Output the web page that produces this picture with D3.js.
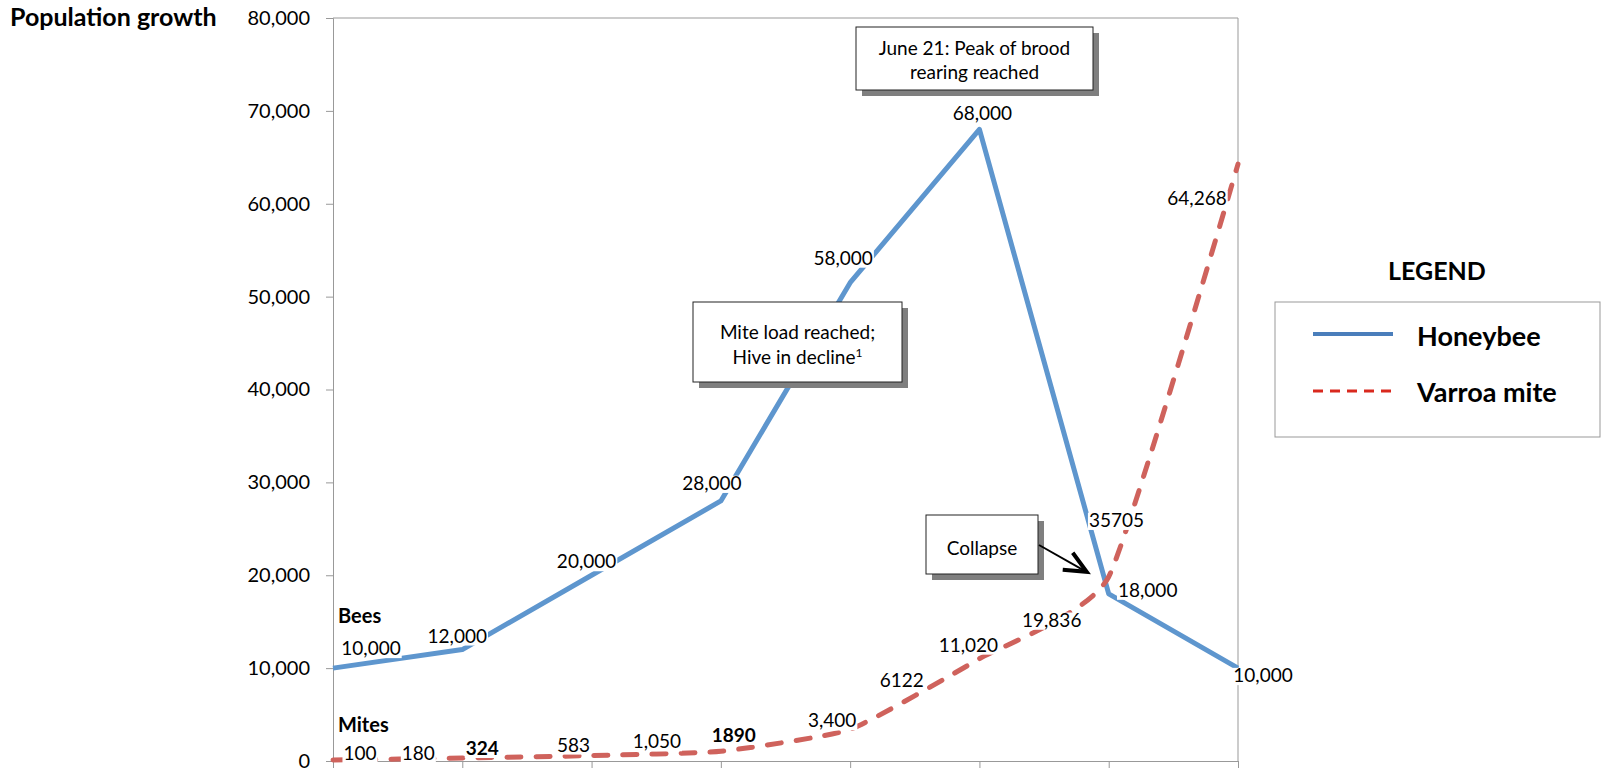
<!DOCTYPE html>
<html>
<head>
<meta charset="utf-8">
<script src="https://cdn.jsdelivr.net/npm/d3@7"></script>
<style>
  body { margin: 0; background: #fff; }
  svg { font-family: Lato, "Open Sans", sans-serif; }
</style>
</head>
<body>
<svg id="chart" width="1604" height="777"></svg>
<script>
// data
const periods = [0, 1, 2, 3, 4, 5, 6, 7];
const beeValues = [10000, 12000, 20000, 28000, 51500, 68000, 18000, 10000];
const beeLabels = ["10,000", "12,000", "20,000", "28,000", "58,000", "68,000", "18,000", "10,000"];
const miteValues = [100, 324, 583, 1050, 3400, 11020, 19836, 64268];
const miteLabels = ["100", "324", "583", "1,050", "3,400", "11,020", "19,836", "64,268"];
// extra mite counts written between the points: [text, period, level]
const miteExtraLabels = [["180", 0.66, 100], ["1890", 3.1, 2050], ["6122", 4.4, 7970], ["35705", 6.06, 25200]];
const yTicks = [0, 10000, 20000, 30000, 40000, 50000, 60000, 70000, 80000];

const svg = d3.select("#chart");

const x = d3.scaleLinear().domain([0, 7]).range([333, 1238]);
const y = d3.scaleLinear().domain([0, 80000]).range([761, 18]);

const gray = "#999";
const beeColor = "#5e96ce";
const miteColor = "#cf625c";

// plot frame
svg.append("line").attr("x1", x(0)).attr("x2", x(7)).attr("y1", y(80000)).attr("y2", y(80000)).attr("stroke", gray);
svg.append("line").attr("x1", x(7)).attr("x2", x(7)).attr("y1", y(80000)).attr("y2", y(0)).attr("stroke", gray);

const yAxis = svg.append("g")
  .attr("transform", `translate(${x(0)},0)`)
  .call(d3.axisLeft(y).tickValues(yTicks).tickFormat(d3.format(",")).tickSize(7).tickPadding(16));
yAxis.select(".domain").attr("stroke", gray);
yAxis.selectAll(".tick line").attr("stroke", gray);
yAxis.selectAll("text").attr("font-size", 20).attr("font-family", "Lato").attr("fill", "#000");

const xAxis = svg.append("g")
  .attr("transform", `translate(0,${y(0)})`)
  .call(d3.axisBottom(x).tickValues(periods).tickFormat("").tickSize(7).tickSizeOuter(0));
xAxis.select(".domain").attr("stroke", gray);
xAxis.selectAll(".tick line").attr("stroke", gray);

svg.append("text").attr("x", 10).attr("y", 26).attr("font-size", 25).attr("font-weight", "bold").text("Population growth");

// lines
const beeLine = d3.line().x((d, i) => x(periods[i])).y((d) => y(d));
svg.append("path").datum(beeValues)
  .attr("d", beeLine)
  .attr("fill", "none").attr("stroke", beeColor).attr("stroke-width", 5).attr("stroke-linejoin", "round");

const miteLine = d3.line().x((d, i) => x(periods[i])).y((d) => y(d)).curve(d3.curveCardinal.tension(0.55));
svg.append("path").datum(miteValues)
  .attr("d", miteLine)
  .attr("fill", "none").attr("stroke", miteColor).attr("stroke-width", 5)
  .attr("stroke-dasharray", "14,15").attr("stroke-linecap", "round");

// labels with white backing
const addLabel = (text, cx, cy, opts = {}) => {
  const size = opts.size || 19;
  const g = svg.append("g");
  const t = g.append("text")
    .attr("x", cx).attr("y", cy)
    .attr("text-anchor", "middle")
    .attr("font-size", size)
    .attr("font-weight", opts.bold ? "bold" : "normal")
    .text(text);
  const b = t.node().getBBox();
  g.insert("rect", "text")
    .attr("x", b.x - 1).attr("y", cy - size * 0.75)
    .attr("width", b.width + 2).attr("height", size * 0.75 + 3)
    .attr("fill", "#fff");
  return g;
};

const beeOffsets = [[38, -13], [-5, -7], [-5, -7], [-9, -11], [-7, -18], [3, -9], [39, 3], [25, 14]];
beeLabels.forEach((s, i) => {
  addLabel(s, x(periods[i]) + beeOffsets[i][0], y(beeValues[i]) + beeOffsets[i][1]);
});

const miteOffsets = [[27, 0], [20, -3], [-18, -4], [-64, -3], [-18, -2], [-11, -7], [-57, 50], [-41, 41]];
miteLabels.forEach((s, i) => {
  addLabel(s, x(periods[i]) + miteOffsets[i][0], y(miteValues[i]) + miteOffsets[i][1], { bold: s === "324" });
});
miteExtraLabels.forEach(([s, p, v]) => {
  addLabel(s, x(p), y(v), { bold: s === "1890" });
});

svg.append("text").attr("x", 338).attr("y", 623).attr("font-size", 20).attr("font-weight", "bold").text("Bees");
svg.append("text").attr("x", 338).attr("y", 732).attr("font-size", 20).attr("font-weight", "bold").text("Mites");

// callout boxes
const callout = (bx, by, w, h, lines, lineGap, firstBase) => {
  const g = svg.append("g");
  g.append("rect").attr("x", bx + 6).attr("y", by + 6).attr("width", w).attr("height", h).attr("fill", "#7f7f7f");
  g.append("rect").attr("x", bx).attr("y", by).attr("width", w).attr("height", h).attr("fill", "#fff").attr("stroke", "#222");
  lines.forEach((l, i) => {
    const t = g.append("text").attr("x", bx + w / 2).attr("y", by + firstBase + i * lineGap)
      .attr("text-anchor", "middle").attr("font-size", 19);
    if (Array.isArray(l)) {
      t.append("tspan").text(l[0]);
      t.append("tspan").attr("font-size", 12).attr("dy", -7).text(l[1]);
    } else {
      t.text(l);
    }
  });
};

callout(856, 27, 237, 63, ["June 21: Peak of brood", "rearing reached"], 24, 28);
callout(693, 302, 209, 80, ["Mite load reached;", ["Hive in decline", "1"]], 25, 37);
callout(926, 515, 112, 59, ["Collapse"], 0, 40);

// arrow to the crossing
const tipX = x(6) - 22, tipY = y(miteValues[6]) - 5;
svg.append("line").attr("x1", 1039).attr("y1", 545).attr("x2", tipX - 2).attr("y2", tipY - 1)
  .attr("stroke", "#000").attr("stroke-width", 2);
svg.append("path")
  .attr("d", `M${tipX - 24},${tipY - 2}L${tipX},${tipY}L${tipX - 14},${tipY - 19}`)
  .attr("fill", "none").attr("stroke", "#000").attr("stroke-width", 4).attr("stroke-linejoin", "miter");

// legend
const lg = svg.append("g");
lg.append("text").attr("x", 1437).attr("y", 280).attr("text-anchor", "middle").attr("font-size", 25).attr("font-weight", "bold").text("LEGEND");
lg.append("rect").attr("x", 1275).attr("y", 302).attr("width", 325).attr("height", 135).attr("fill", "#fff").attr("stroke", gray);
lg.append("line").attr("x1", 1313).attr("x2", 1393).attr("y1", 334).attr("y2", 334).attr("stroke", "#4a7ebb").attr("stroke-width", 4);
lg.append("line").attr("x1", 1313).attr("x2", 1393).attr("y1", 391).attr("y2", 391).attr("stroke", "#d9291e").attr("stroke-width", 3).attr("stroke-dasharray", "10,7");
lg.append("text").attr("x", 1417).attr("y", 346).attr("font-size", 27).attr("font-weight", "bold").text("Honeybee");
lg.append("text").attr("x", 1417).attr("y", 402).attr("font-size", 27).attr("font-weight", "bold").text("Varroa mite");
</script>
</body>
</html>
